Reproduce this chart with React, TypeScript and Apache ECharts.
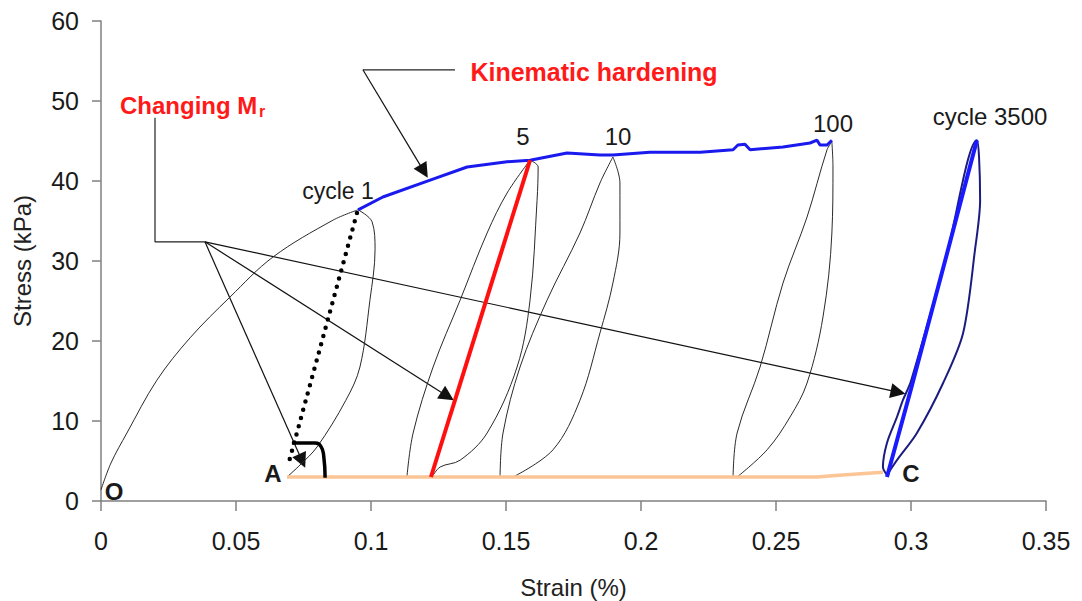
import React, { useEffect, useRef } from 'react';
import * as echarts from 'echarts';

// ---- Data (strain %, stress kPa) ----
const cycle1Loading = [[0, 1.4], [0.0037, 4.75], [0.0096, 8.5], [0.0207, 15.1], [0.033, 20.4], [0.0478, 25.5], [0.0637, 30.5], [0.0859, 35.1], [0.0952, 36.4]];
const cycle1Unloading = [[0.0952, 36.4], [0.1004, 34.9], [0.1015, 31.4], [0.0996, 25.1], [0.0959, 16.75], [0.0907, 12.6], [0.08, 6.75], [0.0737, 4.5], [0.0689, 3.0]];
const cycle5Loading = [[0.1133, 3.0], [0.1156, 8.5], [0.123, 16.75], [0.133, 25.1], [0.143, 33.5], [0.1504, 38.5], [0.1589, 42.6]];
const cycle5Unloading = [[0.1589, 42.6], [0.1619, 41.75], [0.1615, 37.6], [0.1589, 25.1], [0.1541, 16.75], [0.143, 8.5], [0.133, 5.1], [0.1256, 4.25], [0.1226, 3.0]];
const cycle10Loading = [[0.1478, 3.0], [0.1489, 8.5], [0.1552, 16.75], [0.1652, 25.1], [0.1774, 33.5], [0.1848, 39.75], [0.1896, 43.0]];
const cycle10Unloading = [[0.1896, 43.0], [0.1922, 39.75], [0.1922, 33.5], [0.1896, 27.25], [0.1848, 21.0], [0.1774, 12.6], [0.1674, 6.4], [0.1526, 3.0]];
const cycle100Loading = [[0.2341, 3.0], [0.2356, 8.5], [0.2441, 16.75], [0.2526, 27.25], [0.2615, 35.5], [0.2689, 43.9], [0.2707, 44.9]];
const cycle100Unloading = [[0.2707, 44.9], [0.2711, 41.75], [0.2707, 33.5], [0.2674, 23.0], [0.2615, 14.75], [0.2552, 10.5], [0.2467, 6.4], [0.2356, 3.0]];
const cycle3500Loop = [[0.2911, 3.25], [0.2896, 4.25], [0.2911, 7.25], [0.2948, 10.5], [0.297, 12.6], [0.3, 15.0], [0.313, 30.5], [0.3244, 45.1], [0.3252, 43.0], [0.3256, 37.6], [0.3237, 31.4], [0.3193, 21.0], [0.3119, 14.75], [0.3022, 8.5], [0.2948, 5.1], [0.2911, 3.25]];
const cycle3500Modulus = [[0.2911, 3.0], [0.3, 14.0], [0.313, 30.5], [0.3244, 45.1]];
const envelope = [[0.0952, 36.4], [0.1044, 38.0], [0.1219, 40.1], [0.1356, 41.75], [0.1504, 42.4], [0.1589, 42.6], [0.1726, 43.5], [0.1848, 43.25], [0.1896, 43.25], [0.2033, 43.6], [0.2219, 43.6], [0.2341, 43.9], [0.2359, 44.5], [0.2385, 44.6], [0.2404, 43.9], [0.2526, 44.25], [0.2626, 44.75], [0.2652, 45.1], [0.2663, 44.5], [0.2689, 44.5], [0.2707, 45.1]];
const cycle5Modulus = [[0.1222, 3.0], [0.1589, 42.6]];
const cycle1Modulus = [[0.0948, 36.0], [0.0693, 4.5]];
const baseline = [[0.0689, 3.0], [0.2652, 3.0], [0.272, 3.2], [0.2896, 3.6]];
const angleMark = [[0.0707, 7.25], [0.0793, 7.25], [0.0815, 6.8], [0.0825, 5.6], [0.083, 2.9]];

// annotation leader lines
const khLeader = [[0.1311, 53.9], [0.097, 53.9]];
const khArrow = [[0.097, 53.9], [0.1196, 41.2]];
const mrBracket = [[0.02, 47.9], [0.02, 32.4], [0.0385, 32.4]];
const mrArrows = [
  [[0.0385, 32.4], [0.0745, 5.0]],
  [[0.0385, 32.4], [0.1283, 13.1]],
  [[0.0385, 32.4], [0.2952, 13.6]],
];

// axis ticks
const xMin = 0, xMax = 0.35, xStep = 0.05;
const yMin = 0, yMax = 60, yStep = 10;

const THIN = '#2a2a2a';

function thin(data: number[][]) {
  return {
    type: 'line', data, showSymbol: false, smooth: 0.35, silent: true,
    lineStyle: { color: THIN, width: 1 },
  };
}

export default function App() {
  const ref = useRef<HTMLDivElement>(null);
  useEffect(() => {
    document.body.style.margin = '0';
    const chart = echarts.init(ref.current!, null, { renderer: 'svg' });
    const font = '"Liberation Sans", Arial, sans-serif';
    const txt = (text: string, x: number, y: number, opts: any = {}) => ({
      type: 'text', x, y, silent: true,
      style: { text, fill: '#1a1a1a', font: `${opts.weight || 'normal'} ${opts.size || 24}px ${font}`, textAlign: opts.align || 'center', textVerticalAlign: 'middle', ...(opts.style || {}) },
    });
    chart.setOption({
      animation: false,
      backgroundColor: '#ffffff',
      grid: { left: 101, right: 36, top: 21, bottom: 100, containLabel: false, outerBoundsMode: 'none' },
      xAxis: {
        type: 'value', min: xMin, max: xMax, interval: xStep,
        name: 'Strain (%)', nameLocation: 'middle', nameGap: 74, nameMoveOverlap: false,
        nameTextStyle: { fontFamily: font, fontSize: 24, color: '#222' },
        axisLine: { show: true, lineStyle: { color: '#808080', width: 1.5 } },
        axisTick: { show: true, length: 10, lineStyle: { color: '#808080', width: 1.5 } },
        axisLabel: { fontFamily: font, fontSize: 25, color: '#1a1a1a', margin: 27 },
        splitLine: { show: false },
      },
      yAxis: {
        type: 'value', min: yMin, max: yMax, interval: yStep,
        name: 'Stress (kPa)', nameLocation: 'middle', nameGap: 67, nameRotate: 90, nameMoveOverlap: false,
        nameTextStyle: { fontFamily: font, fontSize: 24, color: '#222' },
        axisLine: { show: true, lineStyle: { color: '#808080', width: 1.5 } },
        axisTick: { show: true, length: 9, lineStyle: { color: '#808080', width: 1.5 } },
        axisLabel: { fontFamily: font, fontSize: 25, color: '#1a1a1a', margin: 22 },
        splitLine: { show: false },
      },
      series: [
        thin(cycle1Loading),
        thin(cycle1Unloading),
        thin(cycle5Loading),
        thin(cycle5Unloading),
        thin(cycle10Loading),
        thin(cycle10Unloading),
        thin(cycle100Loading),
        thin(cycle100Unloading),
        { type: 'line', data: baseline, showSymbol: false, lineStyle: { color: '#fbc596', width: 3.5 } },
        { type: 'line', data: cycle3500Loop, showSymbol: false, smooth: 0.3, lineStyle: { color: '#1c1c80', width: 2 } },
        { type: 'line', data: cycle3500Modulus, showSymbol: false, lineStyle: { color: '#1a1aff', width: 4 } },
        { type: 'line', data: envelope, showSymbol: false, lineStyle: { color: '#1a1aee', width: 3 } },
        { type: 'line', data: cycle5Modulus, showSymbol: false, lineStyle: { color: '#ff1010', width: 4 } },
        { type: 'line', data: cycle1Modulus, showSymbol: false, lineStyle: { color: '#000', width: 4.5, type: [0, 8.5], cap: 'round' } },
        { type: 'line', data: angleMark, showSymbol: false, smooth: 0.5, lineStyle: { color: '#000', width: 3.5 } },
        { type: 'line', data: khLeader, showSymbol: false, lineStyle: { color: '#222', width: 1.2 } },
        { type: 'line', data: mrBracket, showSymbol: false, lineStyle: { color: '#222', width: 1.2 } },
        {
          type: 'lines', coordinateSystem: 'cartesian2d', silent: true,
          symbol: ['none', 'triangle'], symbolSize: 15,
          lineStyle: { color: '#111', width: 1.2, opacity: 1 },
          itemStyle: { color: '#000' },
          data: [{ coords: khArrow }, ...mrArrows.map((c) => ({ coords: c }))],
        },
      ],
      graphic: [
        txt('Kinematic hardening', 594, 72, { weight: 'bold', size: 25, style: { fill: '#ff1a1a' } }),
        txt('Changing M', 120, 105, { weight: 'bold', size: 24, align: 'left', style: { fill: '#ff1a1a' } }),
        txt('r', 259, 111, { weight: 'bold', size: 16, align: 'left', style: { fill: '#ff1a1a' } }),
        txt('cycle 1', 338, 191, { size: 23 }),
        txt('5', 523, 136, { size: 24 }),
        txt('10', 618, 136, { size: 24 }),
        txt('100', 833, 123, { size: 24 }),
        txt('cycle 3500', 990, 116, { size: 24 }),
        txt('O', 114, 491, { weight: 'bold', size: 24 }),
        txt('A', 273, 473, { weight: 'bold', size: 24 }),
        txt('C', 911, 473, { weight: 'bold', size: 24 }),
      ],
    });
    return () => chart.dispose();
  }, []);
  return <div ref={ref} style={{ width: 1082, height: 601 }} />;
}
